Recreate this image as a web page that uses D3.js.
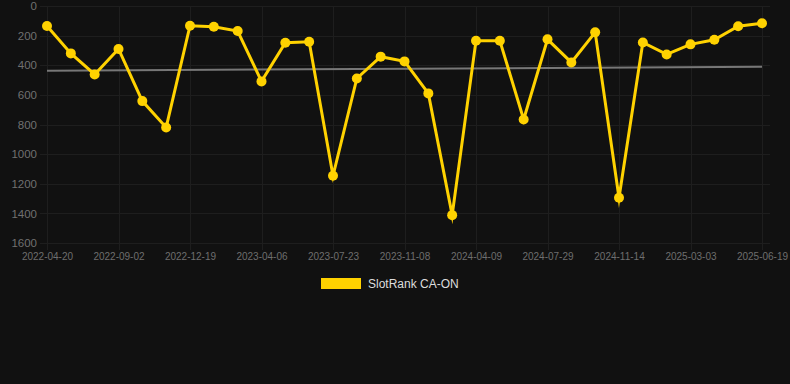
<!DOCTYPE html>
<html>
<head>
<meta charset="utf-8">
<script src="https://cdn.jsdelivr.net/npm/d3@7"></script>
<style>
  html, body { margin: 0; padding: 0; background: #111111; }
  svg { display: block; font-family: "Liberation Sans", Arial, sans-serif; }
</style>
</head>
<body>
<script>
const w = 790, h = 384;

// dates of each sample (only every third is labelled on the axis)
const dates = [
    "2022-04-20", "2022-06-04", "2022-07-19", "2022-09-02", "2022-10-08", "2022-11-13",
    "2022-12-19", "2023-01-24", "2023-03-01", "2023-04-06", "2023-05-12", "2023-06-17",
    "2023-07-23", "2023-08-28", "2023-10-03", "2023-11-08", "2023-12-29", "2024-02-18",
    "2024-04-09", "2024-05-16", "2024-06-22", "2024-07-29", "2024-09-03", "2024-10-09",
    "2024-11-14", "2024-12-20", "2025-01-25", "2025-03-03", "2025-04-08", "2025-05-14",
    "2025-06-19"
];
const ranks = [
    135, 320, 462, 290, 642, 820,
    133, 140, 169, 509, 248, 241,
    1146, 489, 342, 374, 590, 1412,
    234, 234, 766, 225, 381, 178,
    1295, 246, 327, 259, 228, 137,
    117
];
const tickLabels = ["2022-04-20", "2022-09-02", "2022-12-19", "2023-04-06", "2023-07-23",
    "2023-11-08", "2024-04-09", "2024-07-29", "2024-11-14", "2025-03-03", "2025-06-19"];
const yTicks = [0, 200, 400, 600, 800, 1000, 1200, 1400, 1600];
const trend = [437, 410]; // trend line value at first and last date
const seriesName = "SlotRank CA-ON";

const padLeft = 47, padRight = 762, padTop = 6, padBottom = 243;

const xScale = d3.scalePoint().domain(dates).range([padLeft, padRight]);
const yScale = d3.scaleLinear().domain([0, 1600]).range([padTop, padBottom]);

const svg = d3.select("body").append("svg")
    .attr("width", w)
    .attr("height", h);

// grid
svg.append("g")
    .selectAll("line")
    .data(yTicks)
    .enter()
    .append("line")
    .attr("x1", padLeft - 7)
    .attr("x2", padRight + 8)
    .attr("y1", d => Math.round(yScale(d)) + 0.5)
    .attr("y2", d => Math.round(yScale(d)) + 0.5)
    .attr("stroke", "#1e1e1e")
    .attr("stroke-width", 1);
svg.append("g")
    .selectAll("line")
    .data(tickLabels)
    .enter()
    .append("line")
    .attr("x1", d => Math.round(xScale(d)) + 0.5)
    .attr("x2", d => Math.round(xScale(d)) + 0.5)
    .attr("y1", padTop)
    .attr("y2", padBottom + 7)
    .attr("stroke", "#1e1e1e")
    .attr("stroke-width", 1);

// y axis
svg.append("g")
    .attr("transform", "translate(" + (padLeft - 10) + ",0)")
    .call(d3.axisLeft(yScale).tickValues(yTicks).tickFormat(d3.format("d")).tickSize(0).tickPadding(0))
    .call(g => g.select(".domain").remove())
    .call(g => g.selectAll("text")
        .attr("fill", "#707070")
        .attr("font-size", "11.5px")
        .attr("font-family", "Liberation Sans, Arial, sans-serif"));

// x axis
svg.append("g")
    .attr("transform", "translate(0," + (padBottom + 10) + ")")
    .call(d3.axisBottom(xScale).tickValues(tickLabels).tickSize(0).tickPadding(0))
    .call(g => g.select(".domain").remove())
    .call(g => g.selectAll("text")
        .attr("dy", "0.71em")
        .attr("fill", "#6e6e6e")
        .attr("font-size", "10px")
        .attr("font-family", "Liberation Sans, Arial, sans-serif"));

// trend line
svg.append("line")
    .attr("x1", xScale(dates[0]))
    .attr("x2", xScale(dates[dates.length - 1]))
    .attr("y1", yScale(trend[0]))
    .attr("y2", yScale(trend[1]))
    .attr("stroke", "#777777")
    .attr("stroke-width", 2);

// series line
const line = d3.line()
    .x((d, i) => xScale(dates[i]))
    .y(d => yScale(d));
svg.append("path")
    .datum(ranks)
    .attr("d", line)
    .attr("fill", "none")
    .attr("stroke", "#ffd200")
    .attr("stroke-width", 3)
    .attr("stroke-linejoin", "miter")
    .attr("stroke-miterlimit", 10);

svg.selectAll("circle")
    .data(ranks)
    .enter()
    .append("circle")
    .attr("cx", (d, i) => xScale(dates[i]))
    .attr("cy", d => yScale(d))
    .attr("r", 5)
    .attr("fill", "#ffd200");

// legend
const legend = svg.append("g").attr("transform", "translate(321,278)");
legend.append("rect")
    .attr("width", 40)
    .attr("height", 11)
    .attr("fill", "#ffd200");
legend.append("text")
    .attr("x", 47)
    .attr("y", 10)
    .attr("fill", "#dddddd")
    .attr("font-size", "12px")
    .text(seriesName);
</script>
</body>
</html>
